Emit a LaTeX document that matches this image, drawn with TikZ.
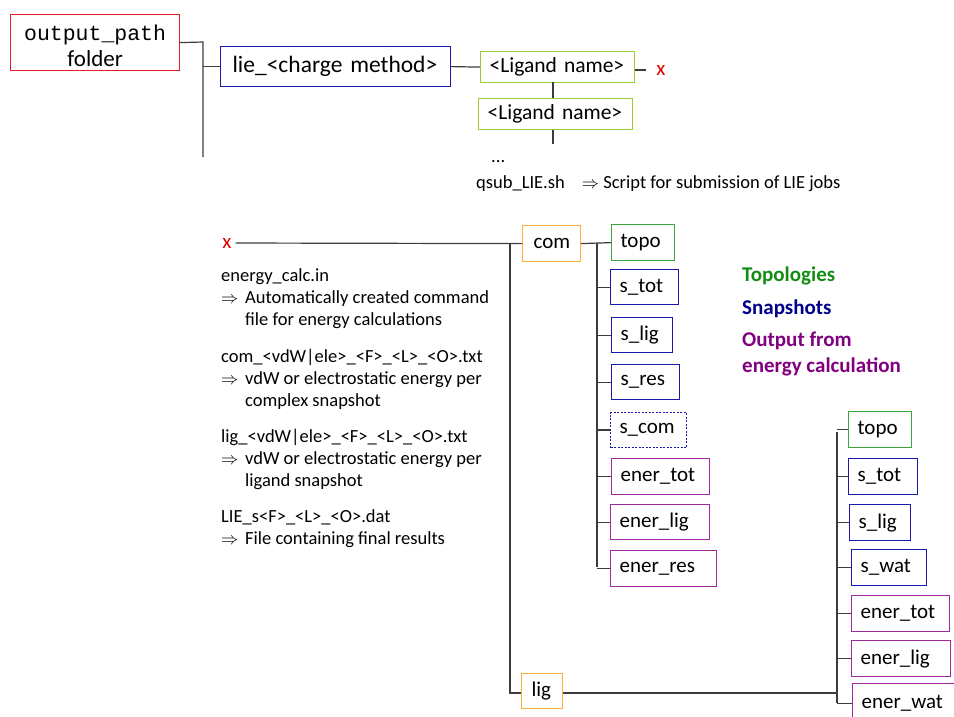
\documentclass[tikz,border=0pt]{standalone}
\usepackage{fontspec}
\setmainfont{Carlito}
\newfontfamily\monofont{Liberation Mono}
\definecolor{cred}{RGB}{228,30,36}
\definecolor{xred}{RGB}{220,0,0}
\definecolor{cblue}{RGB}{25,25,175}
\definecolor{cyg}{RGB}{154,205,50}
\definecolor{corange}{RGB}{255,176,50}
\definecolor{cgreen}{RGB}{60,165,60}
\definecolor{cpurple}{RGB}{160,40,160}
\definecolor{lgreen}{RGB}{20,140,20}
\definecolor{lblue}{RGB}{0,0,140}
\definecolor{lpurple}{RGB}{128,0,128}
\definecolor{cline}{RGB}{60,60,60}
\tikzset{
  bx/.style={draw, line width=1.2pt, inner xsep=9pt, inner ysep=0pt, align=left, anchor=north west, font=\fontsize{21}{22}\selectfont},
  gbox/.style={bx, draw=cgreen},
  bbox/.style={bx, draw=cblue},
  pbox/.style={bx, draw=cpurple},
  obox/.style={bx, draw=corange},
  conn/.style={draw=cline, line width=1.2pt},
  txt/.style={inner sep=0pt, anchor=base west, align=left, font=\fontsize{18.5}{22}\selectfont},
  leg/.style={inner sep=0pt, anchor=base west, align=left, font=\fontsize{21}{26}\selectfont\bfseries},
  redx/.style={inner sep=0pt, text=xred, font=\fontsize{21}{22}\selectfont}
}
\newcommand{\arr}{\makebox[24pt][l]{$\Rightarrow$}}
\newcommand{\ind}{\hspace*{24pt}}
\begin{document}
\begin{tikzpicture}[x=1pt,y=-1pt]
\useasboundingbox (0,0) rectangle (954,716);
% top part
\node[bx, draw=cred, align=center, text width=151pt, minimum height=56pt, inner xsep=9pt] (op) at (10,14)
  {\rule{0pt}{22pt}{\monofont\fontsize{21.5}{26}\selectfont output\_path}\\[4pt]{\fontsize{23}{26}\selectfont folder}};
\node[bx, draw=cblue, inner xsep=12pt, text width=206pt, minimum height=40pt, font=\fontsize{23.5}{26}\selectfont] (lie) at (220,46) {lie\_<charge method>};
\node[bx, draw=cyg, text width=136pt, minimum height=31pt, font=\fontsize{21.5}{24}\selectfont] (lig1) at (480,51) {<Ligand name>};
\node[bx, draw=cyg, text width=136pt, minimum height=31pt, font=\fontsize{21.5}{24}\selectfont] (lig2) at (478,98) {<Ligand name>};
\node[redx] (xa) at (661,70) {x};
\coordinate (vtop) at (203,42);
\coordinate (vbot) at (203,157);
\coordinate (ligend) at (553,144);
\node[txt] (dots) at (491,162) {...};
\node[txt, font=\fontsize{18.5}{22}\selectfont] (qsub) at (476,188) {qsub\_LIE.sh\hspace{17pt}$\Rightarrow$ Script for submission of LIE jobs};

\draw[conn] (op.east) -- (vtop) -- (vbot);
\draw[conn] (lie.west -| vtop) -- (lie.west);
\draw[conn] (lie.east) -- (lig1.west);
\draw[conn, shorten >=10pt] (lig1.east |- xa.west) -- (xa.west);
\draw[conn] (553,82) -- (553,98);
\draw[conn] (lig2.south -| ligend) -- (ligend);

% second part
\node[redx] (xb) at (227,243) {x};
\node[obox, text width=36pt, minimum height=36pt, inner xsep=11pt] (com) at (522,225) {com};
\node[obox, text width=21pt, minimum height=35pt, inner xsep=10pt] (lig) at (521,673) {lig};

\node[gbox, text width=45pt, minimum height=36pt] (ctopo) at (611,224) {topo};
\node[bbox, text width=50pt, minimum height=35pt] (cstot) at (610,269) {s\_tot};
\node[bbox, text width=43pt, minimum height=35pt] (cslig) at (611,317) {s\_lig};
\node[bbox, text width=50pt, minimum height=35pt] (csres) at (611,364) {s\_res};
\node[bbox, dash pattern=on 2pt off 1.5pt, line width=1pt, text width=58pt, minimum height=35pt] (cscom) at (610,412) {s\_com};
\node[pbox, text width=80pt, minimum height=36pt] (cetot) at (611,458) {ener\_tot};
\node[pbox, text width=81pt, minimum height=35pt] (celig) at (610,504) {ener\_lig};
\node[pbox, text width=88pt, minimum height=36pt] (ceres) at (610,550) {ener\_res};

\node[gbox, text width=45pt, minimum height=36pt] (ltopo) at (848,411) {topo};
\node[bbox, text width=51pt, minimum height=36pt] (lstot) at (848,458) {s\_tot};
\node[bbox, text width=43pt, minimum height=36pt] (lslig) at (849,504) {s\_lig};
\node[bbox, text width=57pt, minimum height=36pt] (lswat) at (851,549) {s\_wat};
\node[pbox, text width=80pt, minimum height=36pt] (letot) at (851,595) {ener\_tot};
\node[pbox, text width=81pt, minimum height=36pt] (lelig) at (851,640) {ener\_lig};
\node[pbox, text width=92pt, minimum height=40pt] (lewat) at (852,683) {ener\_wat};

\coordinate (cv) at (510,243);
\coordinate (cvb) at (510,693);
\coordinate (sv) at (597,243);
\coordinate (svb) at (597,567);
\coordinate (lv) at (837,432);
\coordinate (lvb) at (837,703);

\draw[conn, shorten <=4pt] (xb.east) -- (com.west);
\draw[conn] (cv) -- (cvb) -- (lig.west |- cvb);
\draw[conn] (com.east) -- (ctopo.west);
\draw[conn] (sv) -- (svb);
\foreach \n in {cstot,cslig,csres,cscom,cetot,celig,ceres}
  \draw[conn] (\n.west -| sv) -- (\n.west);
\draw[conn] (lig.east |- cvb) -- (cvb -| lv);
\draw[conn] (lv) -- (lvb);
\foreach \n in {ltopo,lstot,lslig,lswat,letot,lelig,lewat}
  \draw[conn] (\n.west -| lv) -- (\n.west);

% description text (anchor = baseline of last line)
\node[txt] (t1) at (221,325) {energy\_calc.in\\\arr Automatically created command\\\ind file for energy calculations};
\node[txt] (t2) at (221,406) {com\_<vdW|ele>\_<F>\_<L>\_<O>.txt\\\arr vdW or electrostatic energy per\\\ind complex snapshot};
\node[txt] (t3) at (221,486) {lig\_<vdW|ele>\_<F>\_<L>\_<O>.txt\\\arr vdW or electrostatic energy per\\\ind ligand snapshot};
\node[txt] (t4) at (221,544) {LIE\_s<F>\_<L>\_<O>.dat\\\arr File containing final results};

% legend
\node[leg, text=lgreen] (lg1) at (742,281) {Topologies};
\node[leg, text=lblue] (lg2) at (742,314) {Snapshots};
\node[leg, text=lpurple] (lg3) at (742,372) {Output from\\energy calculation};
\end{tikzpicture}
\end{document}
